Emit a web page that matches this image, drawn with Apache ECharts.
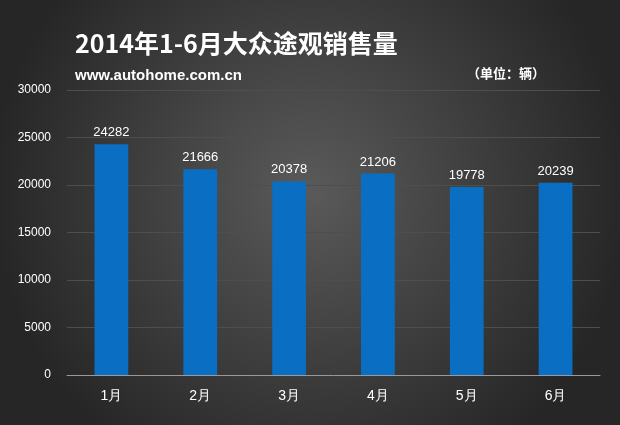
<!DOCTYPE html><html><head><meta charset="utf-8"><script src="https://cdn.jsdelivr.net/npm/echarts@6/dist/echarts.min.js"></script>
<style>html,body{margin:0;padding:0}#c{width:620px;height:425px}</style></head><body><div id="c"></div><script>
const categories=['1月','2月','3月','4月','5月','6月'];
const sales=[24282,21666,20378,21206,19778,20239];
const chart=echarts.init(document.getElementById('c'));
chart.setOption({
backgroundColor:{type:'radial',x:0.5,y:0.45,r:0.75,colorStops:[{offset:0,color:'#5a5a5a'},{offset:1,color:'#262626'}]},
title:[{text:'2014年1-6月大众途观销售量',left:70,top:26,textStyle:{color:'#fff',fontSize:25,fontWeight:'bold',fontFamily:'Noto Sans CJK SC'}},
{text:'www.autohome.com.cn',left:70,top:63,textStyle:{color:'#fff',fontSize:15,fontWeight:'bold',fontFamily:'Arial'}},
{text:'（单位：辆）',left:462,top:62,textStyle:{color:'#fff',fontSize:13,fontWeight:'bold',fontFamily:'Noto Sans CJK SC'}}],
grid:{left:67,right:20,top:90,bottom:50},
xAxis:{type:'category',data:categories,axisTick:{show:false},axisLine:{lineStyle:{color:'#999'}},axisLabel:{color:'#fff',fontSize:14,margin:14}},
yAxis:{type:'value',min:0,max:30000,interval:5000,axisLabel:{color:'#fff',fontSize:12,margin:16,formatter:v=>String(v)},splitLine:{lineStyle:{color:'#4e4e4e'}},axisLine:{show:false}},
series:[{type:'bar',data:sales,barWidth:'38%',itemStyle:{color:'#0a6fc2'},label:{show:true,position:'top',color:'#fff',fontSize:13}}]
});
</script></body></html>
